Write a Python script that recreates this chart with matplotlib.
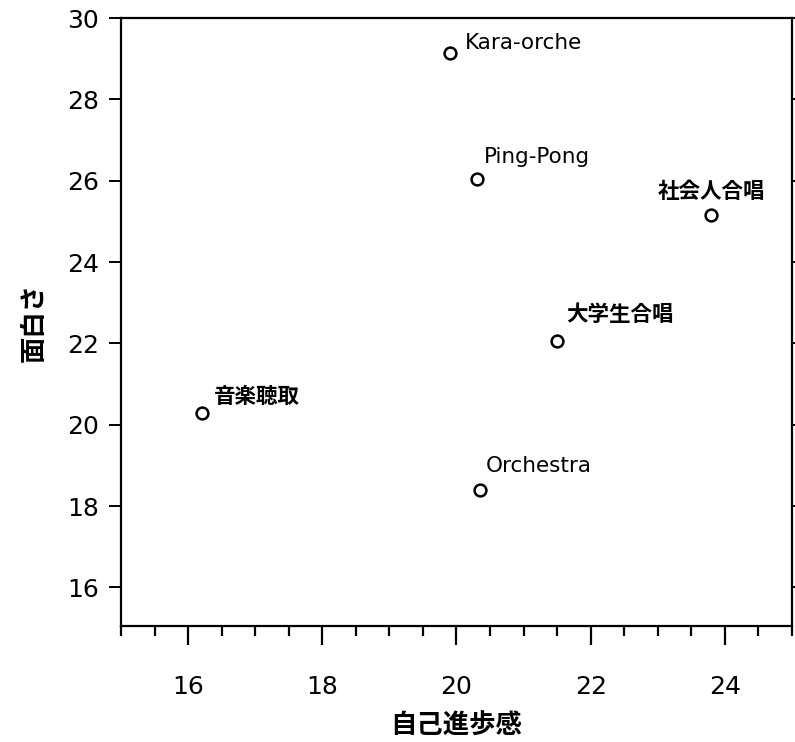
import matplotlib
matplotlib.use("Agg")
import matplotlib.pyplot as plt
from matplotlib.ticker import MultipleLocator

plt.rcParams['font.family'] = ['DejaVu Sans', 'Noto Sans CJK JP']

# data
names = ['Kara-orche', 'Ping-Pong', '社会人合唱', '大学生合唱', '音楽聴取', 'Orchestra']
progress = [19.9, 20.3, 23.8, 21.5, 16.2, 20.35]   # 自己進歩感
fun = [29.15, 26.05, 25.15, 22.05, 20.3, 18.4]     # 面白さ
# label offsets in pixels (dx, dy) and horizontal alignment
offsets = [(15, 10), (7, 22), (0, 24), (9, 27), (12, 16), (6, 24)]
aligns = ['left', 'left', 'center', 'left', 'left', 'left']

fig = plt.figure(figsize=(7.95, 7.42), dpi=100)
ax = fig.add_axes([0.1522, 0.1563, 0.844, 0.8194])

ax.plot(progress, fun, 'o', markersize=8.5, markerfacecolor='white',
        markeredgecolor='black', markeredgewidth=1.8, linestyle='none')

for n, x, y, off, ha in zip(names, progress, fun, offsets, aligns):
    is_cjk = not n.isascii()
    ax.annotate(n, (x, y), xytext=off, textcoords='offset pixels',
                ha=ha, va='center', fontsize=15.5,
                fontweight='bold' if is_cjk else 'normal',
                family='Noto Sans CJK JP' if is_cjk else 'DejaVu Sans')

ax.set_xlim(15, 25)
ax.set_ylim(15.05, 30)
ax.xaxis.set_major_locator(MultipleLocator(2))
ax.xaxis.set_minor_locator(MultipleLocator(0.5))
ax.yaxis.set_major_locator(MultipleLocator(2))

for s in ax.spines.values():
    s.set_linewidth(1.6)

ax.tick_params(axis='x', which='major', direction='out', length=13.5,
               width=1.6, pad=22, labelsize=18)
ax.tick_params(axis='x', which='minor', direction='out', length=7, width=1.6)
ax.tick_params(axis='y', which='major', direction='out', length=9,
               width=1.4, pad=7, labelsize=18, right=True)
ax.set_xticks([16, 18, 20, 22, 24])
ax.set_yticks([16, 18, 20, 22, 24, 26, 28, 30])

ax.set_xlabel('自己進歩感', family='Noto Sans CJK JP', fontsize=19,
              fontweight='bold', labelpad=10)
ax.set_ylabel('面白さ', family='Noto Sans CJK JP', fontsize=19,
              fontweight='bold', labelpad=14)

fig.savefig('out.png', dpi=100)
